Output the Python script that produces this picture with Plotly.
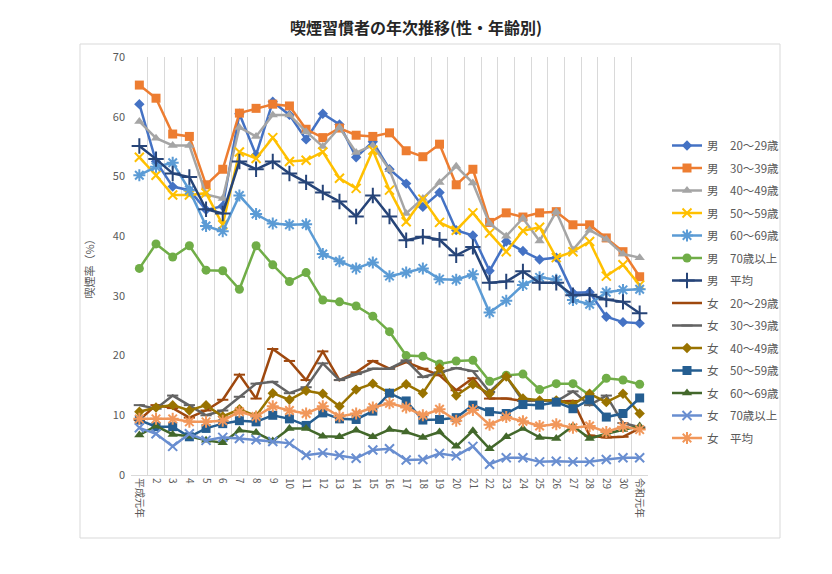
import plotly.graph_objects as go

years = ["平成元年"] + [str(i) for i in range(2, 31)] + ["令和元年"]

m20 = [62.1, 52.5, 48.3, 47.7, 44.4, 45.0, 60.5, 53.6, 62.5, 60.3, 56.2, 60.5, 58.7, 53.2, 55.8, 51.2, 48.8, 44.9, 47.3, 41.0,
       40.1, 34.2, 39.1, 37.5, 36.1, 36.4, 30.5, 30.6, 26.5, 25.6, 25.4]
m30 = [65.3, 63.1, 57.1, 56.7, 48.6, 51.2, 60.6, 61.4, 62.1, 61.8, 57.9, 56.5, 58.1, 56.9, 56.7, 57.3, 54.3, 53.3, 55.4, 48.6,
       51.2, 42.3, 43.9, 43.2, 43.9, 44.1, 41.9, 41.9, 39.7, 37.4, 33.2]
m40 = [59.2, 56.4, 55.2, 55.2, 47.0, 46.3, 58.2, 56.7, 60.3, 60.3, 57.5, 55.0, 58.2, 54.0, 55.2, 51.1, 43.8, 46.3, 49.0, 51.7,
       48.9, 42.1, 40.0, 43.0, 39.2, 44.1, 37.7, 41.0, 39.5, 37.0, 36.4]
m50 = [53.2, 50.2, 46.9, 46.9, 47.2, 41.9, 54.1, 53.0, 56.5, 52.5, 52.7, 54.1, 49.7, 48.0, 54.4, 47.7, 42.4, 46.2, 42.3, 41.0,
       43.9, 40.5, 37.4, 40.9, 41.5, 36.4, 37.4, 39.1, 33.3, 35.2, 31.8]
m60 = [50.2, 51.6, 52.3, 47.7, 41.7, 40.8, 46.8, 43.7, 42.1, 41.9, 42.0, 37.0, 35.8, 34.6, 35.6, 33.3, 33.9, 34.6, 32.8, 32.7,
       33.6, 27.2, 29.2, 31.8, 33.1, 32.7, 29.3, 28.6, 30.6, 31.0, 31.1]
m70 = [34.6, 38.7, 36.5, 38.4, 34.3, 34.2, 31.1, 38.4, 35.2, 32.4, 33.9, 29.3, 29.0, 28.3, 26.6, 24.0, 20.0, 19.9, 18.6, 19.1,
       19.2, 15.7, 16.7, 16.9, 14.3, 15.3, 15.3, 13.4, 16.2, 15.9, 15.2]
mavg = [55.1, 52.9, 50.5, 49.9, 44.5, 43.8, 52.5, 51.2, 52.5, 50.5, 49.0, 47.3, 45.8, 43.3, 46.8, 43.3, 39.3, 39.9, 39.4, 36.8,
        38.2, 32.2, 32.4, 34.1, 32.2, 32.2, 30.1, 30.2, 29.4, 29.0, 27.1]
f20 = [9.2, 11.7, 11.2, 9.6, 10.8, 12.6, 16.8, 12.8, 21.1, 19.1, 15.9, 20.7, 15.9, 17.2, 19.1, 17.8, 18.9, 17.8, 16.7, 14.2,
       16.2, 12.8, 12.8, 12.4, 12.5, 12.3, 12.4, 6.6, 6.3, 6.4, 7.8]
f30 = [11.7, 11.1, 13.3, 11.7, 10.0, 10.8, 13.1, 15.3, 15.6, 13.7, 14.7, 18.7, 15.9, 16.9, 17.8, 17.8, 19.2, 16.4, 17.2, 17.9,
       17.4, 13.9, 16.5, 12.4, 12.5, 12.3, 14.0, 11.7, 13.3, 8.7, 8.0]
f40 = [10.6, 11.3, 11.7, 10.8, 11.7, 9.8, 11.0, 9.9, 13.7, 12.6, 14.1, 13.6, 11.5, 14.3, 15.3, 13.7, 15.2, 13.7, 17.9, 13.3,
       15.2, 13.6, 16.5, 12.8, 12.5, 12.5, 11.8, 13.6, 12.2, 13.6, 10.3]
f50 = [9.2, 8.1, 8.1, 6.4, 7.8, 8.6, 9.1, 8.9, 10.0, 9.4, 8.3, 10.4, 9.4, 9.3, 10.7, 13.7, 12.4, 9.2, 9.3, 9.6,
       11.7, 10.6, 10.3, 11.8, 11.7, 12.2, 11.1, 12.6, 9.7, 10.3, 12.9]
f60 = [6.7, 8.2, 6.8, 6.5, 5.8, 5.4, 7.5, 7.1, 5.7, 7.8, 7.8, 6.5, 6.4, 7.5, 6.4, 7.6, 7.2, 6.3, 7.2, 4.8,
       7.4, 4.4, 6.4, 7.8, 6.3, 6.1, 8.2, 6.1, 6.9, 7.6, 8.2]
f70 = [7.9, 6.9, 4.8, 6.9, 5.8, 6.3, 6.1, 5.9, 5.6, 5.3, 3.3, 3.7, 3.3, 2.8, 4.2, 4.4, 2.5, 2.6, 3.6, 3.2,
       4.8, 1.8, 2.9, 2.9, 2.2, 2.3, 2.2, 2.2, 2.6, 2.9, 2.9]
favg = [9.4, 9.4, 9.4, 8.9, 8.9, 9.1, 10.6, 9.8, 11.5, 10.8, 10.3, 11.5, 9.8, 10.3, 11.3, 12.0, 11.3, 10.0, 11.0, 9.1,
        10.9, 8.4, 9.7, 9.0, 8.2, 8.5, 7.9, 8.2, 7.2, 8.1, 7.6]

series = [
    ("男　20～29歳", m20, "#4472C4", "diamond", 8),
    ("男　30～39歳", m30, "#ED7D31", "square", 9),
    ("男　40～49歳", m40, "#A5A5A5", "triangle-up", 9),
    ("男　50～59歳", m50, "#FFC000", "x-thin-open", 9),
    ("男　60～69歳", m60, "#5B9BD5", "asterisk-open", 10),
    ("男　70歳以上", m70, "#70AD47", "circle", 9),
    ("男　平均", mavg, "#264478", "cross-thin-open", 11),
    ("女　20～29歳", f20, "#9E480E", "line-ew-open", 8),
    ("女　30～39歳", f30, "#636363", "line-ew-open", 8),
    ("女　40～49歳", f40, "#997300", "diamond", 8),
    ("女　50～59歳", f50, "#255E91", "square", 9),
    ("女　60～69歳", f60, "#43682B", "triangle-up", 9),
    ("女　70歳以上", f70, "#698ED0", "x-thin-open", 9),
    ("女　平均", favg, "#F1975A", "asterisk-open", 10),
]

fig = go.Figure()
for i, (name, vals, color, sym, size) in enumerate(series):
    open_sym = sym.endswith("open")
    fig.add_trace(go.Scatter(
        x=years, y=vals, name=name, mode="lines+markers",
        legendgroup=f"g{i}",
        line=dict(color=color, width=2.5),
        marker=dict(symbol=sym, size=size, color=color,
                    line=dict(color=color, width=2 if open_sym else 0)),
    ))

# page body adds an 8px offset; positions below are in figure coordinates
L, R, T, B = 123, 640, 49, 467
PW, PH = R - L, B - T

fig.update_layout(
    width=832, height=574,
    paper_bgcolor="white", plot_bgcolor="white",
    font=dict(family="Noto Sans CJK JP", color="#595959", size=11),
    title=dict(text="<b>喫煙習慣者の年次推移(性・年齢別)</b>", x=(416 - 8) / 832, xanchor="center",
               y=1 - 20 / 574, yanchor="middle",
               font=dict(size=16, color="#262626", family="Noto Sans CJK JP")),
    margin=dict(l=L, r=832 - R, t=T, b=574 - B, autoexpand=False),
    showlegend=True,
    legend=dict(x=(659 - L) / PW, xanchor="left", y=(B - 123) / PH, yanchor="top",
                font=dict(size=11.5, color="#595959", family="Noto Sans CJK JP"),
                tracegroupgap=3.5, traceorder="grouped",
                bgcolor="rgba(0,0,0,0)"),
    xaxis=dict(type="category", range=[-0.5, 30.5], tickson="boundaries", showgrid=True,
               gridcolor="#D9D9D9", gridwidth=1,
               showline=True, linecolor="#D9D9D9", linewidth=1, ticks="", tickangle=90,
               tickfont=dict(size=10, color="#595959"), zeroline=False, automargin=False),
    yaxis=dict(range=[0, 70], dtick=10, showgrid=False, showline=False, zeroline=False, ticks="",
               tickfont=dict(size=11, color="#595959"), automargin=False, ticklabelstandoff=5,
               title=dict(text="喫煙率（%）", font=dict(size=11, color="#595959"), standoff=15)),
    shapes=[dict(type="rect", xref="paper", yref="paper",
                 x0=(72 - L) / PW, x1=(772 - L) / PW,
                 y0=(B - 530) / PH, y1=(B - 36) / PH,
                 line=dict(color="#D9D9D9", width=1), fillcolor="rgba(0,0,0,0)", layer="below")],
)

fig.write_html("out.html")
